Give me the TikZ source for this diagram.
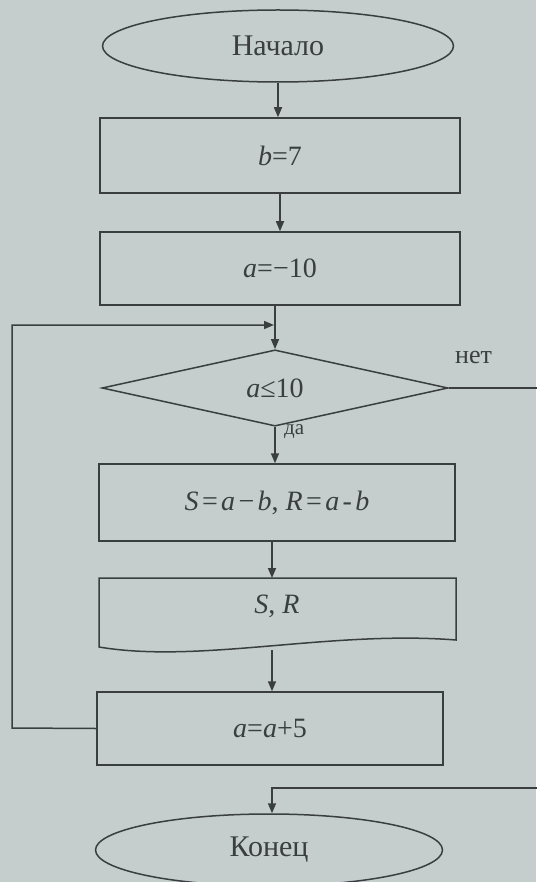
\documentclass[tikz,border=0pt]{standalone}
\usepackage{fontspec}
\setmainfont{Liberation Serif}
\usetikzlibrary{shapes.geometric,arrows.meta}
\definecolor{paper}{RGB}{197,205,205}
\definecolor{ink}{RGB}{58,62,64}
\newcommand{\sq}{\hspace{0.12em}}
\begin{document}
\begin{tikzpicture}[x=1pt,y=-1pt,
  line/.style={draw=ink,line width=1.5pt},
  arr/.style={line,-{Triangle[length=10pt,width=8pt]}},
  blk/.style={line,rectangle,inner sep=0pt,text=ink,font=\fontsize{28}{32}\selectfont},
  term/.style={line,ellipse,inner sep=0pt,text=ink,font=\fontsize{30}{34}\selectfont},
  lbl/.style={text=ink,inner sep=0pt,font=\fontsize{26}{28}\selectfont}]
\fill[paper] (0,0) rectangle (536,882);
\useasboundingbox (0,0) rectangle (536,882);
% nodes
\node[term,minimum width=351pt,minimum height=72pt] (start) at (278,46) {Начало};
\node[blk,minimum width=360pt,minimum height=75pt] (b7) at (280,155.5) {\textit{b}=7};
\node[blk,minimum width=360pt,minimum height=73pt] (a10) at (280,268.5) {\textit{a}=−10};
\node[blk,diamond,minimum width=346pt,minimum height=75pt] (cond) at (275,388) {\textit{a}≤10};
\node[blk,minimum width=356pt,minimum height=77pt] (sr) at (277,502.5) {\textit{S}\sq=\sq\textit{a}\sq−\sq\textit{b}, \textit{R}\sq=\sq\textit{a}\sq-\sq\textit{b}};
% document (output) shape
\draw[line] (99,578) -- (456,578) -- (456,640) .. controls (330,630) and (200,664) .. (99,647) -- cycle;
\node[text=ink,inner sep=0pt,font=\fontsize{28}{32}\selectfont] (out) at (277,606) {\textit{S}, \textit{R}};
\coordinate (outtop) at (272,578);
\coordinate (outbot) at (272,650);
\node[blk,minimum width=346pt,minimum height=73pt] (inc) at (270,728.5) {\textit{a}=\textit{a}+5};
\node[term,minimum width=347pt,minimum height=72pt] (end) at (269,850) {Конец};
% labels
\node[lbl,anchor=west] (no) at (455,357) {нет};
\node[lbl,anchor=west,font=\fontsize{21}{24}\selectfont] (yes) at (284,432) {да};
% connectors
\draw[arr] (start.south) -- (start.south |- b7.north);
\draw[arr] (b7.south) -- (b7.south |- a10.north);
\coordinate (join) at (275,325);
\draw[line] (a10.south -| join) -- (join);
\draw[arr] (join) -- (join |- cond.north);
\coordinate (lp1) at (12,728);
\coordinate (lp2) at (12,325);
\draw[arr] (inc.west) -- (lp1) -- (lp2) -- ([xshift=-1pt]join);
\draw[arr] (cond.south) -- (cond.south |- sr.north);
\draw[arr] (sr.south -| outtop) -- (outtop);
\draw[arr] (outbot) -- (outbot |- inc.north);
\coordinate (r1) at (548,388);
\coordinate (r2) at (548,788);
\coordinate (r3) at (272,788);
\draw[arr] (cond.east) -- (r1) -- (r2) -- (r3) -- (r3 |- end.north);
\end{tikzpicture}
\end{document}
